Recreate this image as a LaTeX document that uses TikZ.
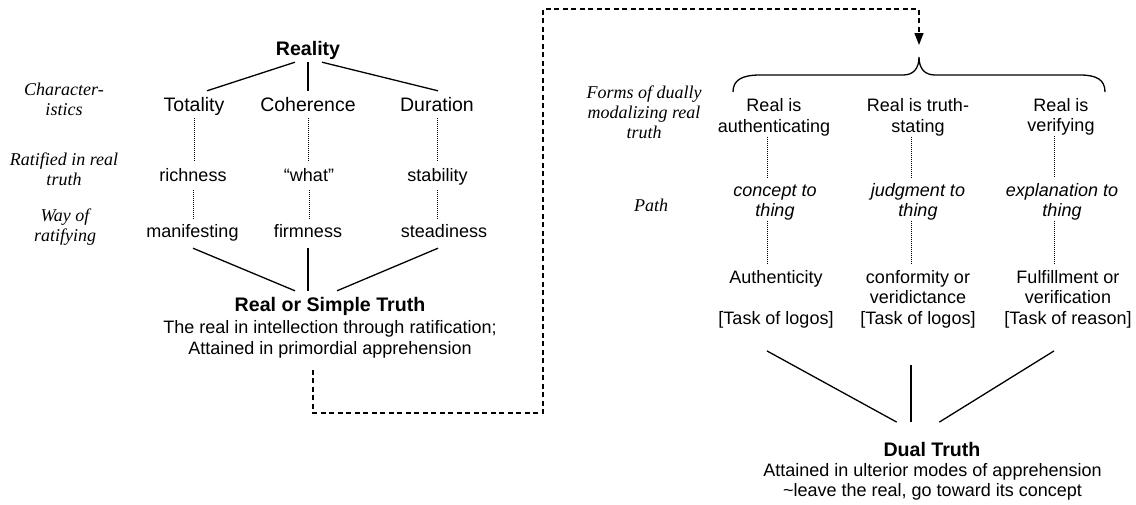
\documentclass[tikz,border=0pt]{standalone}
\usepackage{fontspec}
\setmainfont{Liberation Sans}
\newfontfamily\labelserif{Liberation Serif}
\usetikzlibrary{arrows.meta}
\begin{document}
\begin{tikzpicture}[x=1pt,y=-1pt,
  % multi-line nodes are placed by the baseline of their last line
  txt/.style={inner sep=0pt,anchor=base,align=center,font=\fontsize{18}{20.5}\selectfont},
  one/.style={text height=14pt,text depth=4pt},
  word/.style={txt,one},
  bigword/.style={txt,one,font=\fontsize{19.5}{21}\selectfont},
  title/.style={txt,one,font=\bfseries\fontsize{19.6}{21}\selectfont},
  rowlabel/.style={txt,font=\labelserif\itshape\fontsize{18}{20}\selectfont},
  pathtext/.style={txt,font=\itshape\fontsize{18}{20.5}\selectfont},
  link/.style={line width=1.3pt},
  dots/.style={line width=0.7pt,dash pattern=on 0.7pt off 1.3pt},
  jump/.style={line width=1.3pt,dash pattern=on 5pt off 3.5pt},
]
\useasboundingbox (0,0) rectangle (1136,504);

% ---------- simple (real) truth ----------
\node[title]   (reality) at (308,55)    {Reality};
\node[bigword] (tot)     at (194,111)   {Totality};
\node[bigword] (coh)     at (308,111)   {Coherence};
\node[bigword] (dur)     at (437,111)   {Duration};
\node[word]    (rich)    at (193,181.7) {richness};
\node[word]    (what)    at (309,181.7) {“what”};
\node[word]    (stab)    at (437.5,181.7) {stability};
\node[word]    (man)     at (192.5,237) {manifesting};
\node[word]    (firm)    at (308,237)   {firmness};
\node[word]    (stead)   at (444,237)   {steadiness};
\node[title]   (simple)  at (330,311.7) {Real or Simple Truth};
\node[txt]     (sdesc)   at (330,354)   {The real in intellection through ratification;\\Attained in primordial apprehension};

\node[rowlabel] (lchar) at (64,115.7) {Character-\\istics};
\node[rowlabel] (lrat)  at (64,185)   {Ratified in real\\truth};
\node[rowlabel] (lway)  at (65,241)   {Way of\\ratifying};

\draw[link] ([xshift=-13pt,yshift=-3pt]reality.south) -- ([xshift=13pt,yshift=6pt]tot.north);
\draw[link] ([yshift=-3pt]reality.south) -- ([yshift=6pt]coh.north);
\draw[link] ([xshift=14pt,yshift=-3pt]reality.south) -- ([xshift=1pt,yshift=6pt]dur.north);

\foreach \a/\b in {tot/rich,coh/what,dur/stab}
  \draw[dots] ([yshift=-3pt]\a.south) -- ([yshift=5.7pt]\a.south |- \b.north);
\foreach \a/\b in {rich/man,what/firm,stab/stead}
  \draw[dots] ([yshift=-4.3pt]\a.south) -- ([yshift=3pt]\a.south |- \b.north);

\draw[link] ([xshift=0.5pt,yshift=-7pt]man.south) -- ([xshift=-35pt,yshift=6.7pt]simple.north);
\draw[link] ([yshift=-7pt]firm.south) -- ([xshift=-22pt,yshift=6.7pt]simple.north);
\draw[link] ([xshift=-6pt,yshift=-7pt]stead.south) -- ([xshift=7pt,yshift=6.7pt]simple.north);

% ---------- dual truth ----------
\node[rowlabel] (lform) at (644,138)   {Forms of dually\\modalizing real\\truth};
\node[rowlabel] (lpath) at (651,211.7) {Path};

\node[txt] (t1) at (774,132)  {Real is\\authenticating};
\node[txt] (t2) at (918,132)  {Real is truth-\\stating};
\node[txt] (t3) at (1061,131.5) {Real is\\verifying};

\begin{scope}
  \clip (690,170) rectangle (1136,219.5);
  \node[pathtext] (p1) at (775,216.7)  {concept to\\thing};
  \node[pathtext] (p2) at (918,216.7)  {judgment to\\thing};
  \node[pathtext] (p3) at (1062,216.7) {explanation to\\thing};
\end{scope}

\node[txt] (b1) at (776,324)  {Authenticity\\[20.5pt]{[Task of logos]}};
\node[txt] (b2) at (918,324)  {conformity or\\veridictance\\{[Task of logos]}};
\node[txt] (b3) at (1068,324) {Fulfillment or\\verification\\{[Task of reason]}};

\node[title] (dual)  at (932,456.7)   {Dual Truth};
\node[txt]   (ddesc) at (932.5,496.7) {Attained in ulterior modes of apprehension\\\textasciitilde leave the real, go toward its concept};

\coordinate (bracetip) at (919,57);
\draw[link] (733,92) .. controls (733,80) and (742,75) .. (760,75) -- (903,75)
  .. controls (913,75) and (919,69) .. (bracetip)
  .. controls (919,69) and (925,75) .. (935,75) -- (1080,75)
  .. controls (1097,75) and (1105,80) .. (1105,92);

\foreach \a/\b/\c/\s in {t1/p1/b1/-7,t2/p2/b2/-7,t3/p3/b3/-7}{
  \draw[dots] ([xshift=\s pt,yshift=-1pt]\a.south) -- ([xshift=\s pt,yshift=5.6pt]\a.south |- \b.north);
  \draw[dots] ([xshift=\s pt]\a.south |- \b.south) -- ([xshift=\s pt,yshift=6.9pt]\a.south |- \c.north);
}

\draw[link] ([xshift=-9pt,yshift=-23pt]b1.south) -- ([xshift=-35.3pt,yshift=20.4pt]dual.north);
\draw[link] ([xshift=-7pt,yshift=-37pt]b2.south) -- ([xshift=-21pt,yshift=20.4pt]dual.north);
\draw[link] ([xshift=-14pt,yshift=-23pt]b3.south) -- ([xshift=7.3pt,yshift=20.4pt]dual.north);

% ---------- passage from simple to dual truth ----------
\draw[jump,-{Triangle[length=12pt,width=9pt]}]
  ([xshift=-17pt,yshift=-12pt]sdesc.south) |- (543,413) -- (543,9) -| ([yshift=12pt]bracetip);
\end{tikzpicture}
\end{document}
